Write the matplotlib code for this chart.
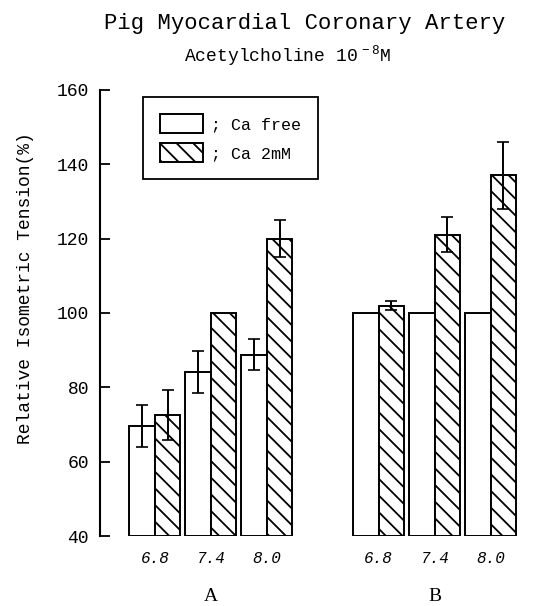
import numpy as np
import matplotlib
matplotlib.use("Agg")
import matplotlib.pyplot as plt

#--------------- Style ---------------------
plt.rcParams['font.family'] = 'Liberation Mono'
plt.rcParams['mathtext.fontset'] = 'custom'
plt.rcParams['mathtext.rm'] = 'Liberation Mono'
plt.rcParams['hatch.linewidth'] = 1.3
plt.rcParams['axes.linewidth'] = 1.5

#--------------- Data ----------------------
ph_labels = ["6.8", "7.4", "8.0"]
groups = ["A", "B"]
ca_free = [69.6, 84.2, 88.8, 100, 100, 100]
ca_free_err = [5.7, 5.6, 4.1, 0, 0, 0]
ca_2mm = [72.5, 100, 120, 102, 121, 137]
ca_2mm_err = [6.8, 0, 5, 1.3, 4.7, 9]
baseline = 40

#--------------- Graph ---------------------
fig = plt.figure(figsize=(5.35, 6.06), dpi=100)
ax = fig.add_axes([0.187, 0.1155, 0.795, 0.736])

centers = np.array([0, 1, 2, 4, 5, 6], dtype=float)
w = 0.455
x_free = centers - w / 2
x_ca = centers + w / 2

ax.bar(x_free, np.array(ca_free) - baseline, w, bottom=baseline,
       facecolor='white', edgecolor='black', linewidth=1.4, label='; Ca free')
ax.bar(x_ca, np.array(ca_2mm) - baseline, w, bottom=baseline,
       facecolor='white', edgecolor='black', linewidth=1.4, hatch='\\\\',
       label='; Ca 2mM')

for xs, ys, es in [(x_free, ca_free, ca_free_err), (x_ca, ca_2mm, ca_2mm_err)]:
    for xx, yy, ee in zip(xs, ys, es):
        if ee > 0:
            ax.errorbar(xx, yy, yerr=ee, fmt='none', ecolor='black',
                        elinewidth=1.4, capsize=4, capthick=1.2)

ax.set_xlim(-0.98, 6.62)
ax.set_ylim(40, 160)
ax.set_yticks(np.arange(40, 161, 20))
ax.tick_params(axis='y', direction='in', length=7, width=1.3, labelsize=13, pad=8)
ax.set_xticks(centers)
ax.set_xticklabels(ph_labels * 2, fontstyle='italic', fontsize=11.5)
ax.tick_params(axis='x', length=0, pad=11)
for s in ['top', 'right', 'bottom']:
    ax.spines[s].set_visible(False)

ax.set_ylabel("Relative Isometric Tension(%)", fontsize=13)
ax.yaxis.set_label_coords(-0.155, 0.555)

for gi, g in enumerate(groups):
    ax.text(np.mean(centers[gi * 3:gi * 3 + 3]), -0.135, g, transform=ax.get_xaxis_transform(),
            ha='center', va='center', fontsize=14, family='Liberation Serif')

leg = ax.legend(loc='upper left', bbox_to_anchor=(0.101, 0.984), borderaxespad=0,
                fontsize=12, handlelength=2.6, handleheight=1.4, handletextpad=0.5,
                fancybox=False, edgecolor='black', framealpha=1, borderpad=1.0,
                labelspacing=0.6)
leg.get_frame().set_linewidth(1.3)

fig.text(0.57, 0.962, "Pig Myocardial Coronary Artery", ha='center', va='center', fontsize=16)
fig.text(0.537, 0.908, r"Acetylcholine 10$^{\,-8}$M", ha='center', va='center', fontsize=13)

fig.savefig("out.png", dpi=100)
